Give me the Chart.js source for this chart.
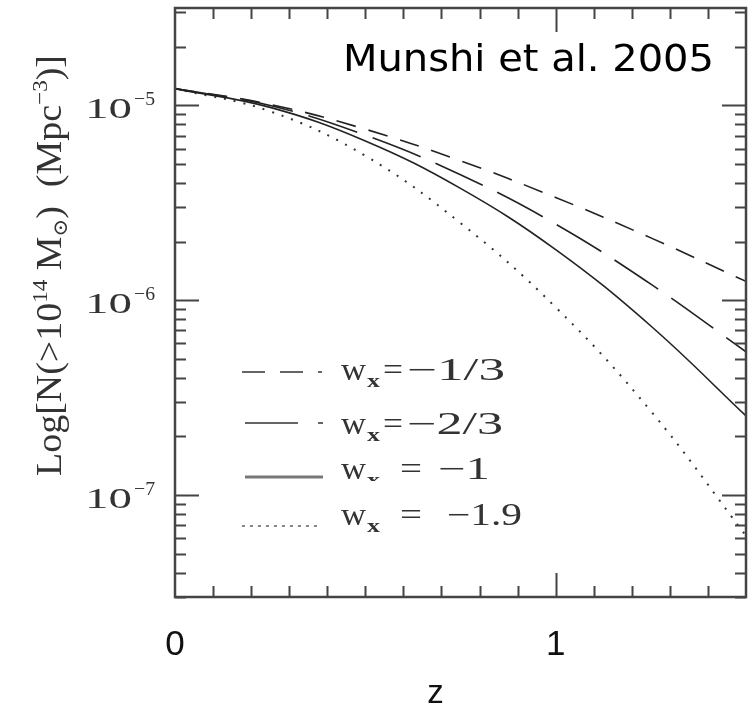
<!DOCTYPE html>
<html>
<head>
<meta charset="utf-8">
<script src="https://cdn.jsdelivr.net/npm/chart.js@4.4.1/dist/chart.umd.min.js"></script>
<style>
  html, body { margin: 0; padding: 0; background: #fff; }
  #wrap { width: 752px; height: 713px; }
</style>
</head>
<body>
<div id="wrap"><canvas id="massFn" width="752" height="713"></canvas></div>
<script>
// redshift grid and cumulative cluster counts N(>1e14 Msun) per Mpc^3
const zValues = [0, 0.25, 0.5, 0.75, 1.0, 1.25, 1.5];
const nW13 = [1.22e-5, 1.012e-5, 7.55e-6, 5.20e-6, 3.37e-6, 2.09e-6, 1.25e-6];
const nW23 = [1.22e-5, 1.00e-5, 7.04e-6, 4.41e-6, 2.46e-6, 1.21e-6, 5.44e-7];
const nW1  = [1.22e-5, 9.77e-6, 6.57e-6, 3.75e-6, 1.82e-6, 7.38e-7, 2.55e-7];
const nW19 = [1.22e-5, 9.32e-6, 5.51e-6, 2.49e-6, 9.21e-7, 2.70e-7, 6.19e-8];

// axis ticks and their labels
const xMajorTicks = [0, 1];
const xMajorLabels = ['0', '1'];
const yMajorTicks = [1e-5, 1e-6, 1e-7];
const yMajorExp = ['\u22125', '\u22126', '\u22127'];

// legend text: w_x = value
const legendValues = ['\u22121/3', '\u22122/3', '\u22121', '\u22121.9'];
const annotation = 'Munshi et al. 2005';

const INK = '#333';
const SERIF = '"Liberation Serif", "DejaVu Serif", serif';

function pts(ys) {
  return zValues.map((z, i) => ({ x: z, y: ys[i] }));
}

function fitText(ctx, text, x, base, width, font) {
  ctx.save();
  ctx.font = font;
  const w = ctx.measureText(text).width;
  ctx.translate(x, base);
  ctx.scale(width / w, 1);
  ctx.fillText(text, 0, 0);
  ctx.restore();
}

const whiteBg = {
  id: 'whiteBg',
  beforeDraw(chart) {
    const ctx = chart.ctx;
    ctx.save();
    ctx.fillStyle = '#fff';
    ctx.fillRect(0, 0, chart.width, chart.height);
    ctx.restore();
  }
};

const frame = {
  id: 'frame',
  afterDatasetsDraw(chart) {
    const { ctx, chartArea: a, scales: { x, y } } = chart;
    ctx.save();
    ctx.strokeStyle = '#444';
    ctx.lineWidth = 2;

    // inward tick marks on all four sides
    ctx.beginPath();
    for (let i = 1; i < 15; i++) {
      const v = i / 10;
      const px = Math.round(x.getPixelForValue(v)) + 0.5;
      const len = Math.abs(v - 1) < 1e-9 ? 24 : 11;
      ctx.moveTo(px, a.bottom); ctx.lineTo(px, a.bottom - len);
      ctx.moveTo(px, a.top); ctx.lineTo(px, a.top + len);
    }
    for (let e = -8; e <= -5; e++) {
      for (let m = 1; m <= 9; m++) {
        const v = m * Math.pow(10, e);
        if (v < y.min || v > y.max) continue;
        const py = Math.round(y.getPixelForValue(v)) + 0.5;
        const len = m === 1 ? 24 : 11;
        ctx.moveTo(a.left, py); ctx.lineTo(a.left + len, py);
        ctx.moveTo(a.right, py); ctx.lineTo(a.right - len, py);
      }
    }
    ctx.stroke();

    ctx.lineWidth = 2.5;
    ctx.strokeRect(a.left, a.top, a.right - a.left, a.bottom - a.top);

    ctx.fillStyle = INK;
    ctx.textBaseline = 'alphabetic';

    // y tick labels 10^-n
    yMajorTicks.forEach((v, i) => {
      const py = y.getPixelForValue(v);
      fitText(ctx, '10', 85, py + 12.5, 47, '30px ' + SERIF);
      fitText(ctx, yMajorExp[i], 134, py - 0.5, 21, '19px ' + SERIF);
    });

    // x tick labels
    ctx.fillStyle = '#111';
    ctx.font = '35px "Liberation Sans", Arial, sans-serif';
    ctx.textAlign = 'center';
    xMajorTicks.forEach((v, i) => {
      ctx.fillText(xMajorLabels[i], x.getPixelForValue(v), 655);
    });
    ctx.font = '33px "Liberation Sans", Arial, sans-serif';
    ctx.fillText('z', (a.left + a.right) / 2 - 25, 703);
    ctx.textAlign = 'left';

    // rotated y-axis title
    ctx.fillStyle = INK;
    const pieces = [
      ['Log[N(>10', 36, 0], ['14', 22, -14], [' M', 36, 0], ['\u2299', 20, 6],
      [')  (Mpc', 36, 0], ['\u22123', 22, -14], [')]', 36, 0]
    ];
    let total = 0;
    pieces.forEach(p => { ctx.font = p[1] + 'px ' + SERIF; total += ctx.measureText(p[0]).width; });
    ctx.save();
    ctx.translate(61, 476);
    ctx.rotate(-Math.PI / 2);
    ctx.scale(421 / total, 1);
    let cx = 0;
    pieces.forEach(p => {
      ctx.font = p[1] + 'px ' + SERIF;
      ctx.fillText(p[0], cx, p[2]);
      cx += ctx.measureText(p[0]).width;
    });
    ctx.restore();

    // annotation
    ctx.fillStyle = '#000';
    fitText(ctx, annotation, 343, 71, 371, '38px "DejaVu Sans", Verdana, sans-serif');

    // legend
    const rows = [
      { lineY: 372, base: 380, x0: 242, x1: 322, dash: [23, 15], lw: 1.6, col: '#333', eqX: 383, eqW: 20, valX: 407, valEnd: 505 },
      { lineY: 423, base: 434, x0: 245, x1: 323, dash: [53, 20], lw: 1.6, col: '#333', eqX: 383, eqW: 20, valX: 407, valEnd: 503 },
      { lineY: 477, base: 479, x0: 245, x1: 323, dash: [], lw: 3, col: '#777', eqX: 400, eqW: 22, valX: 438, valEnd: 490 },
      { lineY: 526, base: 525, x0: 242, x1: 322, dash: [3, 5], lw: 2, col: '#888', eqX: 400, eqW: 22, valX: 447, valEnd: 522 }
    ];
    rows.forEach((r, i) => {
      ctx.save();
      ctx.strokeStyle = r.col;
      ctx.lineWidth = r.lw;
      ctx.setLineDash(r.dash);
      ctx.beginPath();
      ctx.moveTo(r.x0, r.lineY);
      ctx.lineTo(r.x1, r.lineY);
      ctx.stroke();
      ctx.restore();

      ctx.fillStyle = INK;
      fitText(ctx, 'w', 341, r.base, 25, '31px ' + SERIF);
      ctx.save();
      if (i === 2) {
        ctx.beginPath();
        ctx.rect(360, r.base - 20, 30, 22);
        ctx.clip();
      }
      fitText(ctx, 'x', 367, r.base + 7, 13, 'bold 19px ' + SERIF);
      ctx.restore();
      fitText(ctx, '=', r.eqX, r.base, r.eqW, '31px ' + SERIF);
      fitText(ctx, legendValues[i], r.valX, r.base, r.valEnd - r.valX, '31px ' + SERIF);
    });
    ctx.restore();
  }
};

const lineBase = {
  borderColor: '#222',
  borderWidth: 1.6,
  pointRadius: 0,
  fill: false,
  tension: 0.4
};

new Chart(document.getElementById('massFn'), {
  type: 'line',
  data: {
    datasets: [
      { ...lineBase, label: 'w_x=-1/3', data: pts(nW13), borderDash: [20, 13] },
      { ...lineBase, label: 'w_x=-2/3', data: pts(nW23), borderDash: [52, 16] },
      { ...lineBase, label: 'w_x=-1', data: pts(nW1) },
      { ...lineBase, label: 'w_x=-1.9', data: pts(nW19), borderDash: [2, 8], borderWidth: 2, borderColor: '#333' }
    ]
  },
  options: {
    responsive: false,
    animation: false,
    devicePixelRatio: 1,
    layout: { padding: { left: 175, right: 6, top: 8, bottom: 116 } },
    plugins: { legend: { display: false }, tooltip: { enabled: false } },
    scales: {
      x: { type: 'linear', min: 0, max: 1.5, display: false },
      y: { type: 'logarithmic', min: Math.pow(10, -7.5), max: Math.pow(10, -4.5), display: false }
    }
  },
  plugins: [whiteBg, frame]
});
</script>
</body>
</html>
